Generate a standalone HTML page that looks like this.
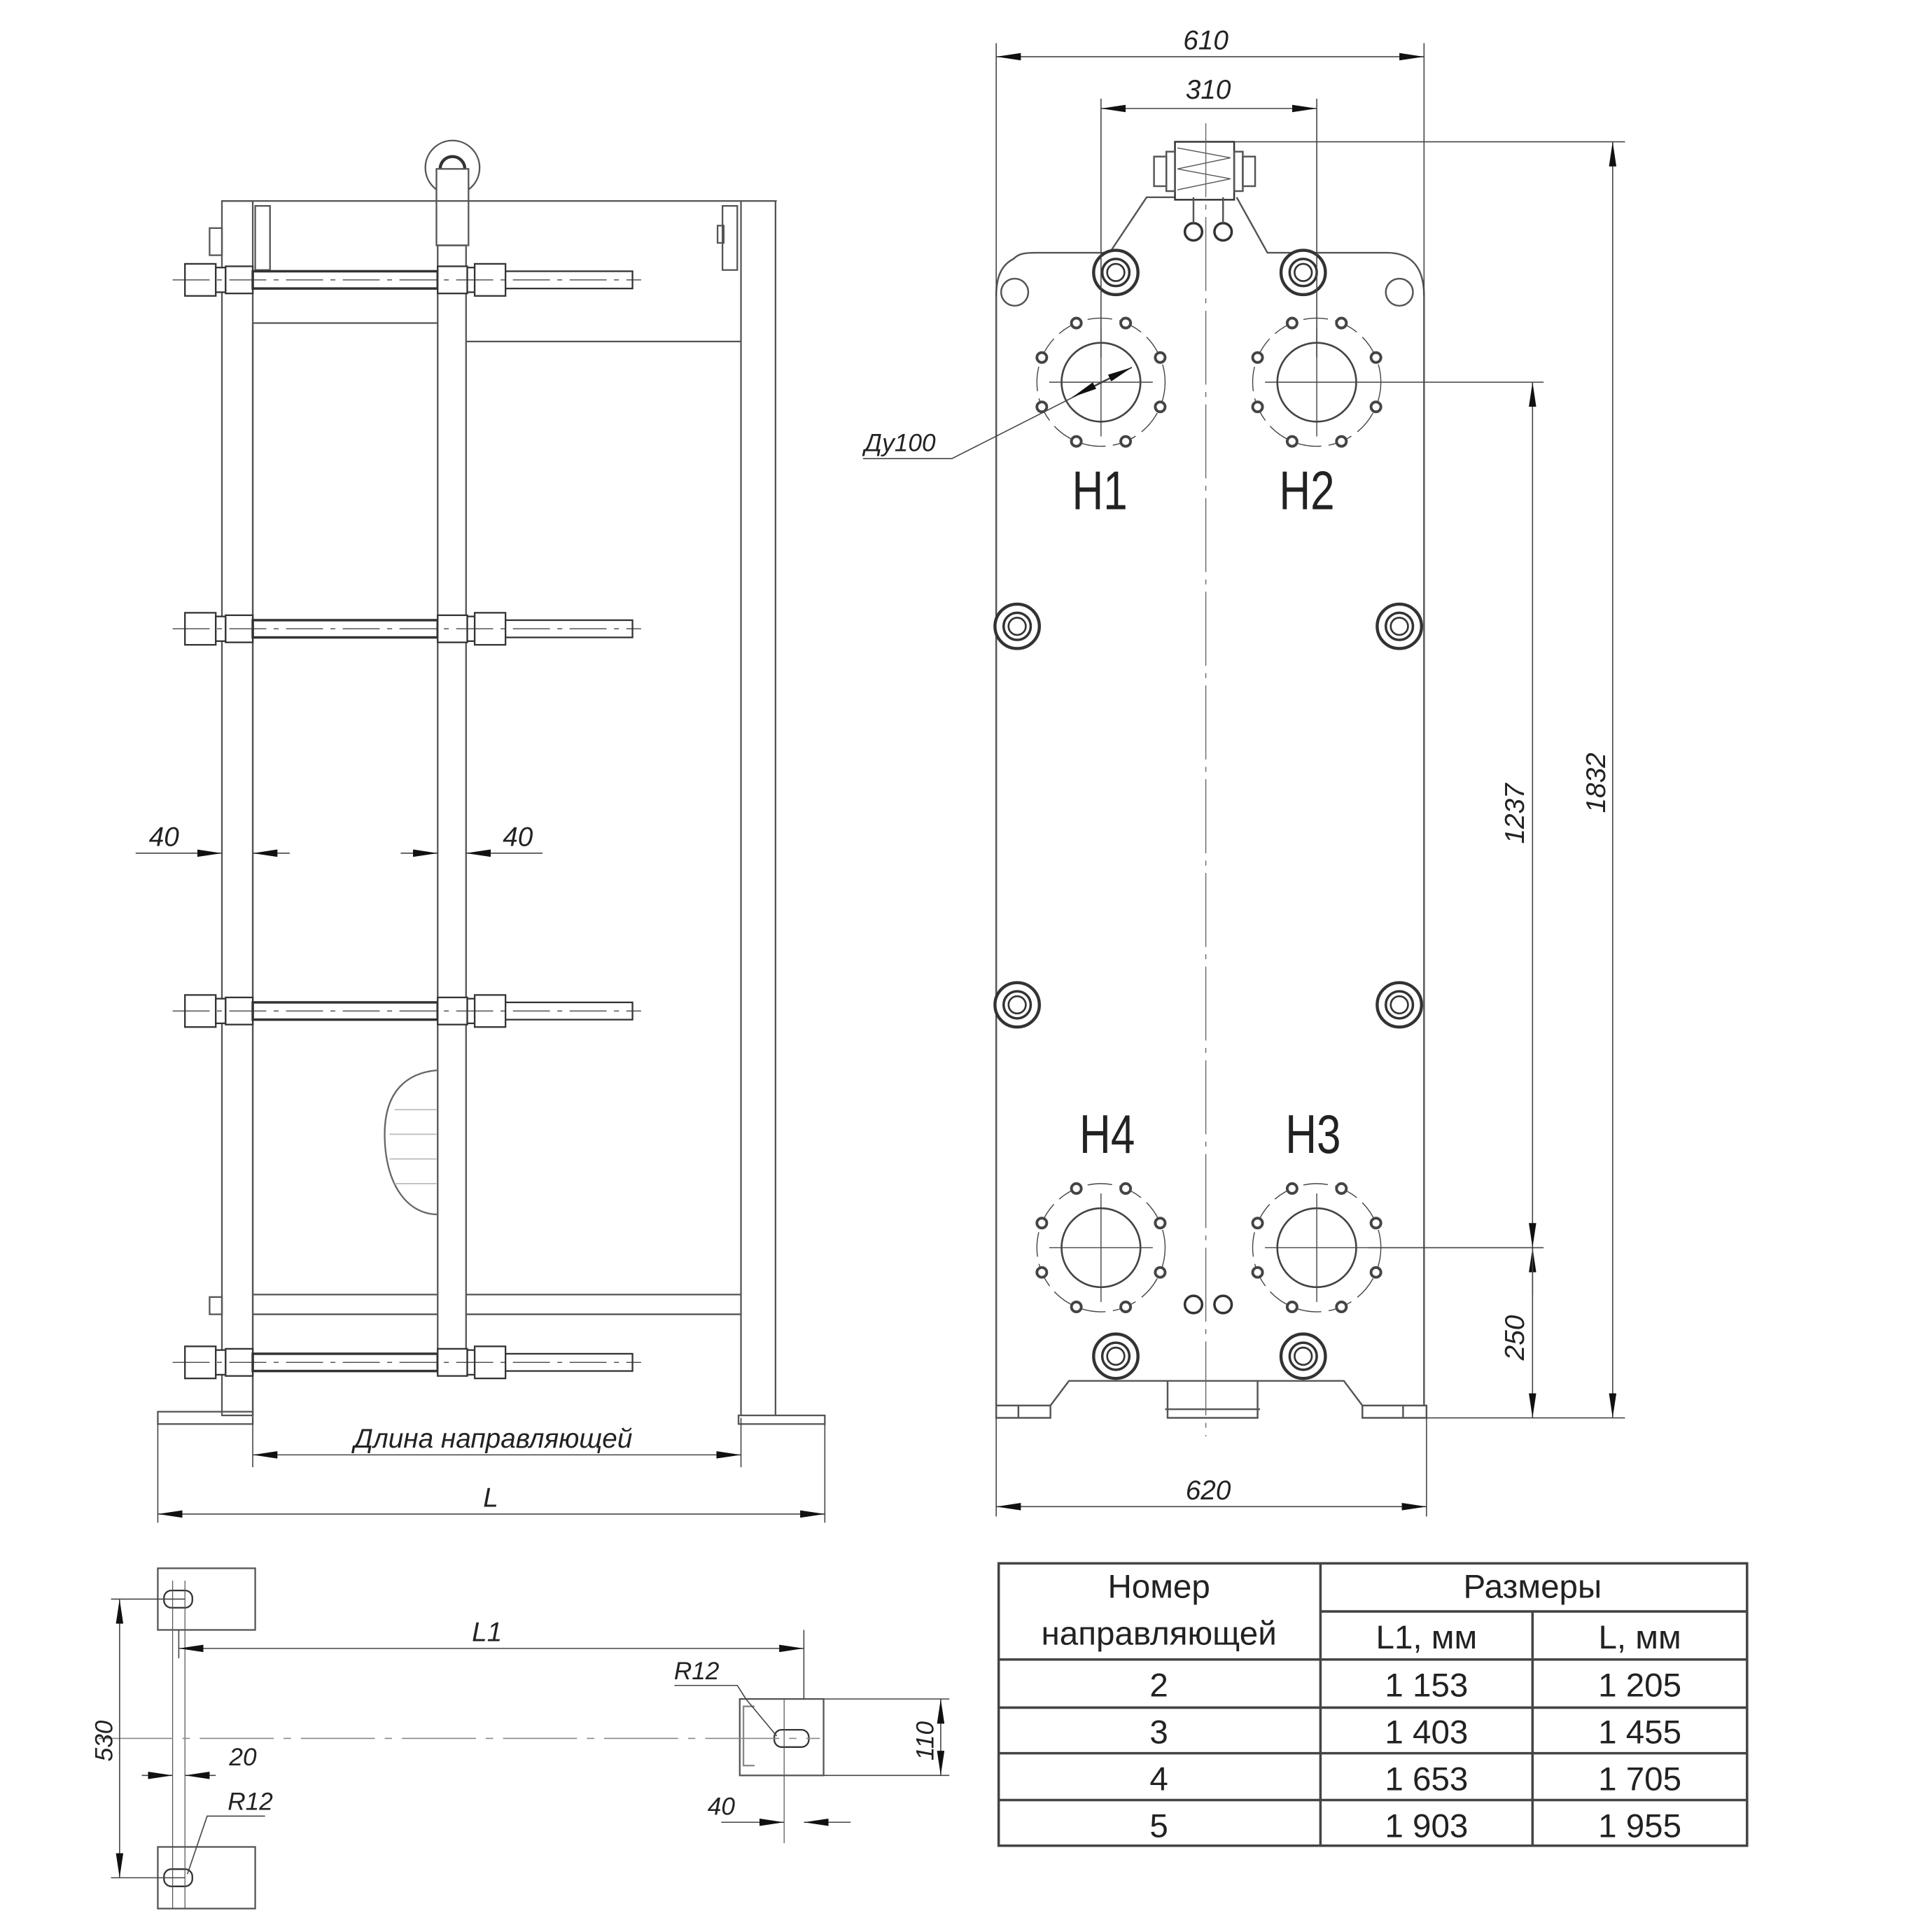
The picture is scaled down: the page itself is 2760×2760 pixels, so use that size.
<!DOCTYPE html>
<html><head><meta charset="utf-8"><style>
html,body{margin:0;padding:0;background:#fff;}
svg{display:block;}
text{font-family:"Liberation Sans",sans-serif;fill:#222;}
.it{font-style:italic;}
</style></head><body>
<svg width="2760" height="2760" viewBox="0 0 1567 1567" xmlns="http://www.w3.org/2000/svg">
<defs>
<marker id="a" viewBox="0 0 20 6" refX="20" refY="3" markerWidth="20" markerHeight="6" markerUnits="userSpaceOnUse" orient="auto-start-reverse"><path d="M0,0 L20,3 L0,6 Z" fill="#111"/></marker>
<g id="nut"><circle r="18" fill="#fff" stroke="#333" stroke-width="2.5"/><circle r="11" fill="none" stroke="#333" stroke-width="2"/><circle r="7" fill="none" stroke="#333" stroke-width="1.5"/></g>
<g id="port" fill="none" stroke="#444">
<circle r="32" stroke-width="1.5"/><circle r="52" stroke-width="0.8" stroke-dasharray="20 6"/>
<line x1="-42" y1="0" x2="42" y2="0" stroke-width="0.8"/><line x1="0" y1="-44" x2="0" y2="44" stroke-width="0.8"/>
<g stroke-width="2.2" fill="#fff"><circle cx="-20" cy="-48" r="4"/><circle cx="20" cy="-48" r="4"/><circle cx="-48" cy="-20" r="4"/><circle cx="48" cy="-20" r="4"/><circle cx="-48" cy="20" r="4"/><circle cx="48" cy="20" r="4"/><circle cx="-20" cy="48" r="4"/><circle cx="20" cy="48" r="4"/></g>
</g>
<g id="bar" stroke="#333" fill="#fff" stroke-width="1.3">
<rect x="150" y="-13" width="25" height="26"/><rect x="175" y="-10" width="8" height="20"/>
<rect x="183" y="-11" width="22" height="22"/>
<rect x="205" y="-7" width="150" height="14" stroke-width="2"/>
<rect x="355" y="-11" width="24" height="22"/><rect x="379" y="-10" width="6" height="20"/>
<rect x="385" y="-13" width="25" height="26"/>
<rect x="410" y="-7" width="103" height="14"/>
<line x1="140" y1="0" x2="520" y2="0" stroke-width="0.7" stroke-dasharray="30 6 4 6"/>
</g>
</defs>

<!-- LEFT VIEW -->
<g fill="none" stroke="#555" stroke-width="1.3">
<circle cx="367" cy="136" r="22"/><circle cx="367" cy="137" r="10" stroke="#333" stroke-width="2.5"/>
<rect x="354" y="137" width="26" height="62" fill="#fff"/>
<line x1="180" y1="163" x2="630" y2="163"/>
<rect x="180" y="163" width="25" height="985"/>
<rect x="355" y="199" width="23" height="915"/>
<line x1="601" y1="163" x2="601" y2="1148"/><line x1="629" y1="163" x2="629" y2="1148"/>
<line x1="205" y1="262" x2="355" y2="262"/><line x1="378" y1="277" x2="601" y2="277"/>
<line x1="205" y1="1050" x2="355" y2="1050"/><line x1="378" y1="1050" x2="601" y2="1050"/>
<line x1="205" y1="1066" x2="355" y2="1066"/><line x1="378" y1="1066" x2="601" y2="1066"/>
<line x1="205" y1="262" x2="205" y2="1148"/>
<rect x="207" y="167" width="12" height="52"/><rect x="586" y="167" width="12" height="52"/>
<rect x="582" y="183" width="5" height="14"/>
<rect x="170" y="185" width="10" height="22"/>
<rect x="170" y="1052" width="10" height="14"/>
<rect x="128" y="1145" width="77" height="10"/><rect x="599" y="1148" width="70" height="7"/>
<path d="M355,868 C330,870 312,885 312,920 C312,960 330,985 355,985" stroke="#666"/>
</g>
<g stroke="#bbb" stroke-width="1"><line x1="320" y1="900" x2="354" y2="900"/><line x1="316" y1="920" x2="354" y2="920"/><line x1="316" y1="940" x2="354" y2="940"/><line x1="320" y1="960" x2="354" y2="960"/></g>
<use href="#bar" y="227"/><use href="#bar" y="510"/><use href="#bar" y="820"/><use href="#bar" y="1105"/>

<!-- left dims -->
<g stroke="#444" stroke-width="0.9" fill="none">
<line x1="205" y1="1150" x2="205" y2="1190"/><line x1="601" y1="1150" x2="601" y2="1190"/>
<line x1="205" y1="1180" x2="601" y2="1180" marker-start="url(#a)" marker-end="url(#a)"/>
<line x1="128" y1="1155" x2="128" y2="1235"/><line x1="669" y1="1155" x2="669" y2="1235"/>
<line x1="128" y1="1228" x2="669" y2="1228" marker-start="url(#a)" marker-end="url(#a)"/>
<line x1="110" y1="692" x2="180" y2="692" marker-end="url(#a)"/><line x1="235" y1="692" x2="205" y2="692" marker-end="url(#a)"/>
<line x1="325" y1="692" x2="355" y2="692" marker-end="url(#a)"/><line x1="440" y1="692" x2="378" y2="692" marker-end="url(#a)"/>
</g>
<text x="400" y="1174" font-size="22" class="it" text-anchor="middle">Длина направляющей</text>
<text x="398" y="1222" font-size="22" class="it" text-anchor="middle">L</text>
<text x="133" y="686" font-size="22" class="it" text-anchor="middle">40</text>
<text x="420" y="686" font-size="22" class="it" text-anchor="middle">40</text>

<!-- RIGHT VIEW -->
<g fill="none" stroke="#555" stroke-width="1.4">
<path d="M808,1140 L808,240 C808,225 812,215 822,210 C826,206 830,205 840,205 L900,205 L930,160 L953,160 M1003,160 L1028,205 L1125,205 C1140,205 1155,212 1155,240 L1155,1140"/>
<path d="M808,1140 L808,1150 L852,1150 L852,1140 Z M826,1140 L826,1150"/>
<path d="M852,1140 L867,1120 L1090,1120 L1105,1140"/>
<path d="M1105,1140 L1105,1150 L1157,1150 L1157,1140 Z M1138,1140 L1138,1150"/>
<path d="M947,1120 L947,1150 L1020,1150 L1020,1120 M945,1143 L1022,1143"/>
<rect x="953" y="115" width="48" height="47" fill="#fff" stroke="#333"/>
<path d="M955,120 L998,128 L955,137 L998,145 L955,154" stroke-width="0.8"/>
<rect x="946" y="123" width="7" height="32"/><rect x="936" y="127" width="10" height="24"/>
<rect x="1001" y="123" width="7" height="32"/><rect x="1008" y="127" width="10" height="24"/>
<circle cx="968" cy="188" r="7" stroke="#333" stroke-width="2"/><circle cx="992" cy="188" r="7" stroke="#333" stroke-width="2"/>
<line x1="968" y1="160" x2="968" y2="181"/><line x1="992" y1="160" x2="992" y2="181"/>
<circle cx="968" cy="1058" r="7" stroke="#333" stroke-width="2"/><circle cx="992" cy="1058" r="7" stroke="#333" stroke-width="2"/>
<circle cx="823" cy="237" r="11"/><circle cx="1135" cy="237" r="11"/>
</g>
<line x1="978" y1="100" x2="978" y2="1165" stroke="#666" stroke-width="0.8" stroke-dasharray="60 6 4 6"/>
<use href="#nut" x="905" y="221"/><use href="#nut" x="1057" y="221"/>
<use href="#nut" x="825" y="508"/><use href="#nut" x="1135" y="508"/>
<use href="#nut" x="825" y="815"/><use href="#nut" x="1135" y="815"/>
<use href="#nut" x="905" y="1100"/><use href="#nut" x="1057" y="1100"/>
<use href="#port" x="893" y="310"/><use href="#port" x="1068" y="310"/>
<use href="#port" x="893" y="1012"/><use href="#port" x="1068" y="1012"/>
<g font-size="44" text-anchor="middle">
<text transform="translate(892,413) scale(0.8,1)">H1</text>
<text transform="translate(1060,413) scale(0.8,1)">H2</text>
<text transform="translate(898,935) scale(0.8,1)">H4</text>
<text transform="translate(1065,935) scale(0.8,1)">H3</text>
</g>

<g stroke="#444" stroke-width="0.9" fill="none">
<line x1="808" y1="35" x2="808" y2="240"/><line x1="1155" y1="35" x2="1155" y2="240"/>
<line x1="808" y1="46" x2="1155" y2="46" marker-start="url(#a)" marker-end="url(#a)"/>
<line x1="893" y1="80" x2="893" y2="290"/><line x1="1068" y1="80" x2="1068" y2="290"/>
<line x1="893" y1="88" x2="1068" y2="88" marker-start="url(#a)" marker-end="url(#a)"/>
<line x1="1001" y1="115" x2="1318" y2="115"/>
<line x1="1308" y1="115" x2="1308" y2="1150" marker-start="url(#a)" marker-end="url(#a)"/>
<line x1="1110" y1="310" x2="1252" y2="310"/><line x1="1110" y1="1012" x2="1252" y2="1012"/>
<line x1="1157" y1="1150" x2="1318" y2="1150"/>
<line x1="1243" y1="310" x2="1243" y2="1012" marker-start="url(#a)" marker-end="url(#a)"/>
<line x1="1243" y1="1050" x2="1243" y2="1012" marker-end="url(#a)"/>
<line x1="1243" y1="1012" x2="1243" y2="1150" marker-end="url(#a)"/>
<line x1="808" y1="1150" x2="808" y2="1230"/><line x1="1157" y1="1150" x2="1157" y2="1230"/>
<line x1="808" y1="1222" x2="1157" y2="1222" marker-start="url(#a)" marker-end="url(#a)"/>
<path d="M700,372 L772,372 L918,298"/>
<line x1="893" y1="310" x2="918" y2="298" marker-end="url(#a)"/>
<line x1="893" y1="310" x2="870" y2="322" marker-end="url(#a)"/>
</g>
<text x="978" y="40" font-size="22" class="it" text-anchor="middle">610</text>
<text x="980" y="80" font-size="22" class="it" text-anchor="middle">310</text>
<text x="980" y="1216" font-size="22" class="it" text-anchor="middle">620</text>
<text x="730" y="366" font-size="20" class="it" text-anchor="middle">Ду100</text>
<text transform="translate(1236,660) rotate(-90)" font-size="22" class="it" text-anchor="middle">1237</text>
<text transform="translate(1302,635) rotate(-90)" font-size="22" class="it" text-anchor="middle">1832</text>
<text transform="translate(1236,1085) rotate(-90)" font-size="22" class="it" text-anchor="middle">250</text>

<!-- BOTTOM LEFT -->
<g fill="none" stroke="#555" stroke-width="1.3">
<rect x="128" y="1272" width="79" height="50"/><rect x="128" y="1498" width="79" height="50"/>
<rect x="600" y="1378" width="68" height="62"/>
<rect x="133" y="1290" width="23" height="14" rx="6" stroke="#333"/>
<rect x="133" y="1516" width="23" height="14" rx="6" stroke="#333"/>
<rect x="628" y="1403" width="28" height="14" rx="6" stroke="#333"/>
<path d="M612,1384 L603,1384 L603,1432 L612,1432" stroke="#888"/>
<line x1="140" y1="1282" x2="140" y2="1548" stroke-width="0.7"/><line x1="150" y1="1282" x2="150" y2="1548" stroke-width="0.7"/>
<line x1="636" y1="1378" x2="636" y2="1495" stroke-width="0.7"/>
</g>
<g stroke="#444" stroke-width="0.9" fill="none">
<line x1="80" y1="1410" x2="665" y2="1410" stroke="#888" stroke-dasharray="60 8 6 8"/>
<line x1="90" y1="1297" x2="150" y2="1297"/><line x1="90" y1="1523" x2="150" y2="1523"/>
<line x1="97" y1="1297" x2="97" y2="1523" marker-start="url(#a)" marker-end="url(#a)"/>
<line x1="145" y1="1322" x2="145" y2="1345"/><line x1="652" y1="1322" x2="652" y2="1378"/>
<line x1="145" y1="1337" x2="652" y2="1337" marker-start="url(#a)" marker-end="url(#a)"/>
<line x1="668" y1="1378" x2="770" y2="1378"/><line x1="668" y1="1440" x2="770" y2="1440"/>
<line x1="763" y1="1378" x2="763" y2="1440" marker-start="url(#a)" marker-end="url(#a)"/>
<line x1="585" y1="1478" x2="636" y2="1478" marker-end="url(#a)"/><line x1="690" y1="1478" x2="652" y2="1478" marker-end="url(#a)"/>
<line x1="115" y1="1440" x2="140" y2="1440" marker-end="url(#a)"/><line x1="175" y1="1440" x2="150" y2="1440" marker-end="url(#a)"/>
<path d="M547,1367 L598,1367 L605,1378 L630,1408"/>
<path d="M215,1473 L168,1473 L152,1520"/>
</g>
<text x="395" y="1331" font-size="22" class="it" text-anchor="middle">L1</text>
<text x="565" y="1362" font-size="20" class="it" text-anchor="middle">R12</text>
<text x="203" y="1468" font-size="20" class="it" text-anchor="middle">R12</text>
<text x="197" y="1432" font-size="20" class="it" text-anchor="middle">20</text>
<text x="585" y="1472" font-size="20" class="it" text-anchor="middle">40</text>
<text transform="translate(91,1412) rotate(-90)" font-size="20" class="it" text-anchor="middle">530</text>
<text transform="translate(757,1412) rotate(-90)" font-size="20" class="it" text-anchor="middle">110</text>

<!-- TABLE -->
<g stroke="#444" stroke-width="2" fill="none">
<rect x="810" y="1268" width="607" height="229"/>
<line x1="1071" y1="1268" x2="1071" y2="1497"/>
<line x1="1243" y1="1307" x2="1243" y2="1497"/>
<line x1="1071" y1="1307" x2="1417" y2="1307"/>
<line x1="810" y1="1346" x2="1417" y2="1346"/>
<line x1="810" y1="1385" x2="1417" y2="1385"/>
<line x1="810" y1="1422" x2="1417" y2="1422"/>
<line x1="810" y1="1460" x2="1417" y2="1460"/>
</g>
<g font-size="27" text-anchor="middle">
<text x="940" y="1296">Номер</text>
<text x="940" y="1334">направляющей</text>
<text x="1243" y="1296">Размеры</text>
<text x="1157" y="1337">L1, мм</text>
<text x="1330" y="1337">L, мм</text>
<text x="940" y="1376">2</text><text x="1157" y="1376">1 153</text><text x="1330" y="1376">1 205</text>
<text x="940" y="1414">3</text><text x="1157" y="1414">1 403</text><text x="1330" y="1414">1 455</text>
<text x="940" y="1452">4</text><text x="1157" y="1452">1 653</text><text x="1330" y="1452">1 705</text>
<text x="940" y="1490">5</text><text x="1157" y="1490">1 903</text><text x="1330" y="1490">1 955</text>
</g>
</svg>
</body></html>
